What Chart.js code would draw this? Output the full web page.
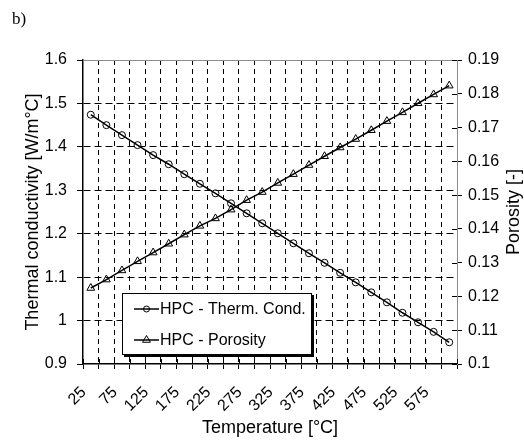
<!DOCTYPE html>
<html><head><meta charset="utf-8">
<script src="https://cdn.jsdelivr.net/npm/chart.js@4/dist/chart.umd.min.js"></script>
<style>html,body{margin:0;padding:0;background:#fff}#wrap{width:524px;height:440px;position:relative}</style>
</head><body><div id="wrap"><canvas id="c" width="524" height="440"></canvas></div>
<script>
// ---- data ----
const temperatures = ['25','50','75','100','125','150','175','200','225','250','275','300','325','350','375','400','425','450','475','500','525','550','575','600'];
const thermalConductivity = [1.474,1.450,1.427,1.404,1.381,1.360,1.337,1.315,1.293,1.270,1.247,1.224,1.201,1.178,1.155,1.133,1.110,1.088,1.065,1.042,1.018,0.996,0.974,0.950];
const porosity = [0.1225,0.1250,0.1277,0.1304,0.1330,0.1356,0.1383,0.1409,0.1431,0.1457,0.1485,0.1509,0.1536,0.1562,0.1589,0.1615,0.1641,0.1666,0.1692,0.1719,0.1745,0.1772,0.1798,0.1824];
const leftAxis = {min: 0.9, max: 1.6, step: 0.1};
const rightAxis = {min: 0.1, max: 0.19, step: 0.01};
const seriesNames = ['HPC - Therm. Cond.', 'HPC - Porosity'];
const axisTitles = {x: 'Temperature [°C]', y: 'Thermal conductivity [W/m°C]', y2: 'Porosity [-]'};
const panelLabel = 'b)';

const FONT = "'Liberation Sans', Arial, Helvetica, sans-serif";
const fmt = v => String(parseFloat(Number(v).toFixed(2)));

const extras = {
  id: 'extras',
  afterDraw(chart) {
    const {ctx, chartArea: a, scales} = chart;
    ctx.save();
    // top frame line
    ctx.strokeStyle = '#8c8c8c'; ctx.lineWidth = 1;
    ctx.beginPath(); ctx.moveTo(a.left, a.top + 0.5); ctx.lineTo(a.right, a.top + 0.5); ctx.stroke();
    // inward tick marks on x axis
    ctx.strokeStyle = '#000'; ctx.lineWidth = 1;
    const xs = scales.x;
    for (let i = 0; i <= xs.ticks.length; i++) {
      const px = Math.round(xs.getPixelForValue(i - 0.5)) + 0.5;
      ctx.beginPath(); ctx.moveTo(px, a.bottom); ctx.lineTo(px, a.bottom - 5); ctx.stroke();
    }
    // inward ticks on right axis
    const ys = scales.y2;
    ys.ticks.forEach(t => {
      const py = Math.round(ys.getPixelForValue(t.value)) + 0.5;
      ctx.beginPath(); ctx.moveTo(a.right, py); ctx.lineTo(a.right - 5, py); ctx.stroke();
    });
    // right axis title (reads bottom to top)
    ctx.fillStyle = '#000';
    ctx.font = '18px ' + FONT;
    ctx.textAlign = 'center'; ctx.textBaseline = 'middle';
    ctx.save();
    ctx.translate(514, (a.top + a.bottom) / 2);
    ctx.rotate(-Math.PI / 2);
    ctx.fillText(axisTitles.y2, 0, 0);
    ctx.restore();
    // panel label
    ctx.font = "17px 'Liberation Serif', 'Times New Roman', serif";
    ctx.textAlign = 'left'; ctx.textBaseline = 'alphabetic';
    ctx.fillText(panelLabel, 12, 24);
    // legend box
    const lx = 122, ly = 293, lw = 190, lh = 62;
    ctx.fillStyle = '#000';
    ctx.fillRect(lx + 2, ly + 2, lw, lh);
    ctx.fillStyle = '#fff';
    ctx.fillRect(lx, ly, lw, lh);
    ctx.strokeStyle = '#000'; ctx.lineWidth = 1;
    ctx.strokeRect(lx + 0.5, ly + 0.5, lw - 1, lh - 1);
    const rows = [ly + 16, ly + 47];
    chart.data.datasets.forEach((ds, i) => {
      const yy = rows[i];
      ctx.strokeStyle = '#000'; ctx.lineWidth = 1.5;
      ctx.beginPath(); ctx.moveTo(lx + 12, yy); ctx.lineTo(lx + 37, yy); ctx.stroke();
      ctx.lineWidth = 1;
      ctx.beginPath();
      if (ds.pointStyle === 'triangle') {
        const r = 4.5;
        ctx.moveTo(lx + 24.5, yy - r); ctx.lineTo(lx + 24.5 + r * 0.87, yy + r * 0.5); ctx.lineTo(lx + 24.5 - r * 0.87, yy + r * 0.5); ctx.closePath();
      } else {
        ctx.arc(lx + 24.5, yy, 3, 0, Math.PI * 2);
      }
      ctx.stroke();
      ctx.fillStyle = '#000';
      ctx.font = '16px ' + FONT;
      ctx.textAlign = 'left'; ctx.textBaseline = 'middle';
      ctx.fillText(ds.label, lx + 38, yy + 1);
    });
    ctx.restore();
  }
};

new Chart(document.getElementById('c'), {
  type: 'line',
  data: {
    labels: temperatures,
    datasets: [
      {label: seriesNames[0], data: thermalConductivity, yAxisID: 'y', borderColor: '#000', borderWidth: 1.5,
       pointStyle: 'circle', pointRadius: 3.5, pointBorderWidth: 1, pointBorderColor: '#000', pointBackgroundColor: 'rgba(0,0,0,0)', tension: 0},
      {label: seriesNames[1], data: porosity, yAxisID: 'y2', borderColor: '#000', borderWidth: 1.5,
       pointStyle: 'triangle', pointRadius: 4.5, pointBorderWidth: 1, pointBorderColor: '#000', pointBackgroundColor: 'rgba(0,0,0,0)', tension: 0}
    ]
  },
  options: {
    responsive: false, animation: false, devicePixelRatio: 1,
    layout: {padding: {top: 60, left: 0, right: 0, bottom: 0}},
    plugins: {legend: {display: false}, tooltip: {enabled: false}},
    elements: {point: {hoverRadius: 0}},
    scales: {
      x: {
        type: 'category', offset: true,
        grid: {offset: true, color: c => (c.index === 0 || c.index === temperatures.length) ? 'rgba(0,0,0,0)' : '#000',
               lineWidth: 1, tickColor: '#000', tickLength: 5, drawTicks: true},
        border: {display: true, color: '#000', width: 1.5, dash: [5, 4]},
        ticks: {autoSkip: false, minRotation: 45, maxRotation: 45, color: '#000', font: {family: FONT, size: 16}, padding: 14, labelOffset: -7,
                callback: function(v, i) { return i % 2 === 0 ? this.getLabelForValue(v) : ''; }},
        title: {display: true, text: axisTitles.x, color: '#000', font: {family: FONT, size: 18}, padding: {top: 0, bottom: 1}},
        afterFit: s => { s.height = 76; }
      },
      y: {
        position: 'left', min: leftAxis.min, max: leftAxis.max,
        grid: {color: c => (c.index === 0 || c.index === 7) ? 'rgba(0,0,0,0)' : '#000', lineWidth: 1, tickColor: '#000', tickLength: 6},
        border: {display: true, color: '#000', width: 1.5, dash: [7, 4]},
        ticks: {stepSize: leftAxis.step, color: '#000', font: {family: FONT, size: 16}, padding: 10, callback: v => fmt(v)},
        title: {display: true, text: axisTitles.y, color: '#000', font: {family: FONT, size: 18}, padding: {top: 22, bottom: 0}},
        afterFit: s => { s.width = 83; }
      },
      y2: {
        position: 'right', min: rightAxis.min, max: rightAxis.max,
        grid: {drawOnChartArea: false, tickColor: '#000', tickLength: 5},
        border: {display: true, color: '#8c8c8c', width: 1},
        ticks: {stepSize: rightAxis.step, color: '#000', font: {family: FONT, size: 16}, padding: 6, callback: v => fmt(v)},
        afterFit: s => { s.width = 67; }
      }
    }
  },
  plugins: [extras]
});
</script>
</body></html>
